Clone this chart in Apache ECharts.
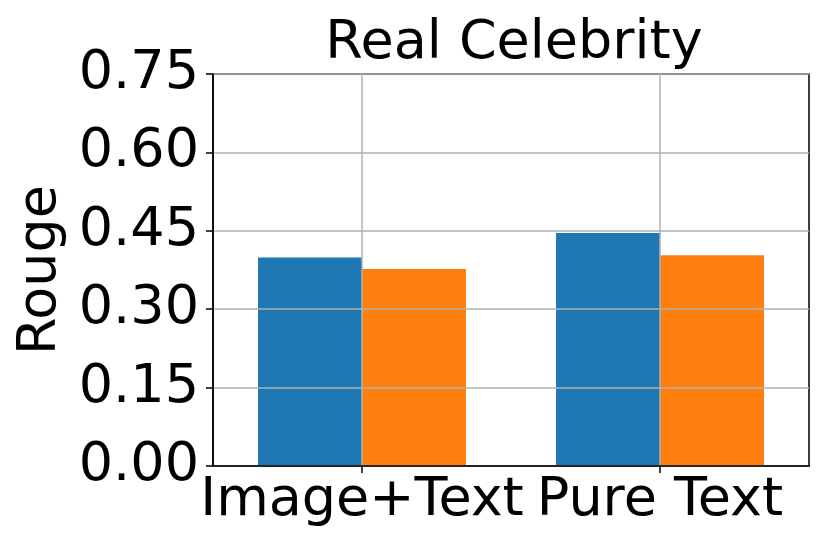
<!DOCTYPE html>
<html>
<head>
<meta charset="utf-8">
<script src="https://cdn.jsdelivr.net/npm/echarts@6/dist/echarts.min.js"></script>
<style>
  html, body { margin: 0; padding: 0; background: #fff; }
  #chart { width: 830px; height: 554px; }
</style>
</head>
<body>
<div id="chart"></div>
<script>
const categories = ['Image+Text', 'Pure Text'];
const blueValues = [0.399, 0.446];
const orangeValues = [0.377, 0.403];
const yTicks = { min: 0, max: 0.75, interval: 0.15 };

const font = 'DejaVu Sans';
const chart = echarts.init(document.getElementById('chart'));

chart.setOption({
  backgroundColor: '#fff',
  animation: false,
  title: {
    text: 'Real Celebrity',
    left: 509,
    textAlign: 'center',
    top: 12,
    textStyle: { fontFamily: font, fontSize: 54, fontWeight: 'normal', color: '#000' }
  },
  grid: {
    left: 213, right: 21, top: 74, bottom: 88,
    show: true, borderColor: '#000', borderWidth: 1.5, backgroundColor: 'transparent'
  },
  xAxis: {
    type: 'category',
    data: categories,
    z: 3,
    axisLine: { lineStyle: { color: '#000', width: 1.5 } },
    axisTick: { show: true, interval: 0, alignWithLabel: true, length: 7, lineStyle: { color: '#000', width: 1.5 } },
    axisLabel: { fontFamily: font, fontSize: 54, color: '#000', margin: 8, interval: 0, hideOverlap: false },
    splitLine: { show: true, interval: 0, alignWithLabel: true, lineStyle: { color: '#b0b0b0', width: 1.5 } }
  },
  yAxis: {
    type: 'value',
    min: yTicks.min,
    max: yTicks.max,
    interval: yTicks.interval,
    z: 3,
    name: 'Rouge',
    nameLocation: 'middle',
    nameGap: 130,
    nameTextStyle: { fontFamily: font, fontSize: 54, color: '#000' },
    axisLine: { show: true, lineStyle: { color: '#000', width: 1.5 } },
    axisTick: { show: true, length: 7, lineStyle: { color: '#000', width: 1.5 } },
    axisLabel: {
      fontFamily: font, fontSize: 54, color: '#000', margin: 14,
      formatter: (v) => v.toFixed(2)
    },
    splitLine: { show: true, lineStyle: { color: '#b0b0b0', width: 1.5 } }
  },
  series: [
    {
      type: 'bar',
      data: blueValues,
      barWidth: 104,
      barGap: '0%',
      itemStyle: { color: '#1f77b4' }
    },
    {
      type: 'bar',
      data: orangeValues,
      barWidth: 104,
      barGap: '0%',
      itemStyle: { color: '#ff7f0e' }
    }
  ]
});
</script>
</body>
</html>
